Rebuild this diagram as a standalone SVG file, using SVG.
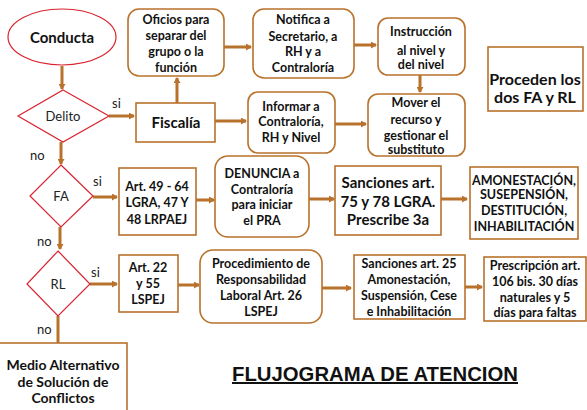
<svg xmlns="http://www.w3.org/2000/svg" width="587" height="410" viewBox="0 0 587 410">
<style>
.box{fill:#fff;stroke:#b8722c;stroke-width:1.6}
.red{fill:#fff;stroke:#d8232f;stroke-width:1.2}
.t{font-family:Lato,"Liberation Sans",sans-serif;font-weight:bold;font-size:12.5px;fill:#111;text-anchor:middle}
.tb{font-family:Lato,"Liberation Sans",sans-serif;font-weight:bold;font-size:15px;fill:#111;text-anchor:middle}
.tm{font-family:Lato,"Liberation Sans",sans-serif;font-weight:bold;font-size:14px;fill:#111;text-anchor:middle}
.lab{font-family:Lato,"Liberation Sans",sans-serif;font-size:13px;fill:#222}
.cn line{stroke:#b8722c;stroke-width:3}
.title{font-family:"Liberation Sans",Arial,sans-serif;font-weight:bold;font-size:20px;fill:#111;text-decoration:underline}
</style>
<defs>
<marker id="ah" markerUnits="userSpaceOnUse" markerWidth="6" markerHeight="7" refX="5" refY="3.5" orient="auto">
<path d="M0,0 L6,3.5 L0,7 z" fill="#b8722c"/>
</marker>
</defs>
<rect width="587" height="410" fill="#fff"/>
<g class="cn">
<line x1="62" y1="66" x2="62" y2="89" marker-end="url(#ah)"/>
<line x1="109" y1="116" x2="134" y2="116" marker-end="url(#ah)"/>
<line x1="177" y1="103" x2="177" y2="78" marker-end="url(#ah)"/>
<line x1="224" y1="47" x2="251" y2="47" marker-end="url(#ah)"/>
<line x1="354" y1="45" x2="376" y2="45" marker-end="url(#ah)"/>
<line x1="420" y1="75" x2="420" y2="92" marker-end="url(#ah)"/>
<line x1="215" y1="121" x2="246" y2="121" marker-end="url(#ah)"/>
<line x1="335" y1="124" x2="366" y2="124" marker-end="url(#ah)"/>
<line x1="61" y1="142" x2="61" y2="164" marker-end="url(#ah)"/>
<line x1="93" y1="197" x2="117" y2="197" marker-end="url(#ah)"/>
<line x1="196" y1="200" x2="214" y2="200" marker-end="url(#ah)"/>
<line x1="309" y1="199" x2="334" y2="199" marker-end="url(#ah)"/>
<line x1="441" y1="199" x2="467" y2="199" marker-end="url(#ah)"/>
<line x1="60" y1="227" x2="60" y2="249" marker-end="url(#ah)"/>
<line x1="90" y1="284" x2="117" y2="284" marker-end="url(#ah)"/>
<line x1="178" y1="285" x2="199" y2="285" marker-end="url(#ah)"/>
<line x1="322" y1="288" x2="351" y2="288" marker-end="url(#ah)"/>
<line x1="465" y1="287" x2="482" y2="287" marker-end="url(#ah)"/>
<line x1="58" y1="316" x2="58" y2="343"/>
</g>
<g id="conducta"><ellipse class="red" cx="62" cy="37" rx="54" ry="28"/><text class="tb" x="62" y="43">Conducta</text></g>
<g id="delito"><path class="red" d="M63,90 L109,116 L63,142 L18,116 z"/><text class="lab" x="63" y="121" text-anchor="middle">Delito</text></g>
<g id="fiscalia"><rect class="box" x="136" y="103" width="79" height="39"/><text class="tb" x="176" y="128">Fiscalía</text></g>
<g id="oficios"><rect class="box" x="128" y="9" width="96" height="67" rx="11"/><text class="t" x="176"><tspan x="176" y="24">Oficios para</tspan><tspan x="176" y="40">separar del</tspan><tspan x="176" y="56">grupo o la</tspan><tspan x="176" y="72">función</tspan></text></g>
<g id="notifica"><rect class="box" x="253" y="9" width="101" height="69" rx="11"/><text class="t"><tspan x="303" y="24">Notifica a</tspan><tspan x="303" y="41">Secretario, a</tspan><tspan x="303" y="56">RH y a</tspan><tspan x="303" y="72">Contraloría</tspan></text></g>
<g id="instruccion"><rect class="box" x="378" y="18" width="87" height="57" rx="10"/><text class="t"><tspan x="421" y="36">Instrucción</tspan><tspan x="421" y="55">al nivel y</tspan><tspan x="421" y="69">del nivel</tspan></text></g>
<g id="informar"><rect class="box" x="248" y="92" width="87" height="61" rx="10"/><text class="t"><tspan x="291" y="111">Informar a</tspan><tspan x="291" y="126">Contraloría,</tspan><tspan x="291" y="142">RH y Nivel</tspan></text></g>
<g id="mover"><rect class="box" x="368" y="94" width="97" height="62" rx="10"/><text class="t"><tspan x="416" y="107">Mover el</tspan><tspan x="416" y="124">recurso y</tspan><tspan x="416" y="140">gestionar el</tspan><tspan x="416" y="154">substituto</tspan></text></g>
<g id="proceden"><rect class="box" x="488" y="47" width="95" height="64"/><text class="tb" style="font-size:16px"><tspan x="535" y="85">Proceden los</tspan><tspan x="535" y="103">dos FA y RL</tspan></text></g>
<g id="fa"><path class="red" d="M61,165 L93,196 L61,227 L30,196 z"/><text class="lab" x="61" y="201" text-anchor="middle">FA</text></g>
<g id="art49"><rect class="box" x="119" y="168" width="77" height="67"/><text class="t"><tspan x="157" y="191">Art. 49 - 64</tspan><tspan x="157" y="207">LGRA, 47 Y</tspan><tspan x="157" y="224">48 LRPAEJ</tspan></text></g>
<g id="denuncia"><rect class="box" x="215" y="156" width="94" height="81" rx="13"/><text class="t"><tspan x="262" y="178">DENUNCIA a</tspan><tspan x="262" y="194">Contraloría</tspan><tspan x="262" y="209">para iniciar</tspan><tspan x="262" y="225">el PRA</tspan></text></g>
<g id="sanciones75"><rect class="box" x="335" y="166" width="106" height="69"/><text class="tb"><tspan x="388" y="188">Sanciones art.</tspan><tspan x="388" y="207">75 y 78 LGRA.</tspan><tspan x="388" y="225">Prescribe 3a</tspan></text></g>
<g id="amonestacion"><rect class="box" x="470" y="167" width="108" height="72"/><text class="t"><tspan x="524" y="185">AMONESTACIÓN,</tspan><tspan x="524" y="199">SUSEPENSIÓN,</tspan><tspan x="524" y="215">DESTITUCIÓN,</tspan><tspan x="524" y="231">INHABILITACIÓN</tspan></text></g>
<g id="rl"><path class="red" d="M58,251 L90,284 L58,316 L27,284 z"/><text class="lab" x="58" y="289" text-anchor="middle">RL</text></g>
<g id="art22"><rect class="box" x="119" y="255" width="59" height="57"/><text class="t"><tspan x="148" y="272">Art. 22</tspan><tspan x="148" y="288">y 55</tspan><tspan x="148" y="304">LSPEJ</tspan></text></g>
<g id="procedimiento"><rect class="box" x="200" y="250" width="122" height="73" rx="13"/><text class="t"><tspan x="261" y="268">Procedimiento de</tspan><tspan x="261" y="284">Responsabilidad</tspan><tspan x="261" y="300">Laboral Art. 26</tspan><tspan x="261" y="316">LSPEJ</tspan></text></g>
<g id="sanciones25"><rect class="box" x="354" y="255" width="111" height="64"/><text class="t"><tspan x="409" y="268">Sanciones art. 25</tspan><tspan x="409" y="284">Amonestación,</tspan><tspan x="409" y="300">Suspensión, Cese</tspan><tspan x="409" y="316">e Inhabilitación</tspan></text></g>
<g id="prescripcion"><rect class="box" x="484" y="257" width="102" height="64"/><text class="t"><tspan x="535" y="270">Prescripción art.</tspan><tspan x="535" y="286">106 bis. 30 días</tspan><tspan x="535" y="302">naturales y 5</tspan><tspan x="535" y="317">días para faltas</tspan></text></g>
<g id="medio"><rect class="box" x="-1" y="343" width="128" height="70"/><text class="tm"><tspan x="63" y="370">Medio Alternativo</tspan><tspan x="63" y="387">de Solución de</tspan><tspan x="63" y="403">Conflictos</tspan></text></g>
<g id="labels">
<text class="lab" x="112" y="108">si</text>
<text class="lab" x="30" y="160">no</text>
<text class="lab" x="93" y="186">si</text>
<text class="lab" x="37" y="246">no</text>
<text class="lab" x="91" y="277">si</text>
<text class="lab" x="37" y="334">no</text>
</g>
<text class="title" x="232" y="381" textLength="286" lengthAdjust="spacingAndGlyphs">FLUJOGRAMA DE ATENCION</text>
</svg>
